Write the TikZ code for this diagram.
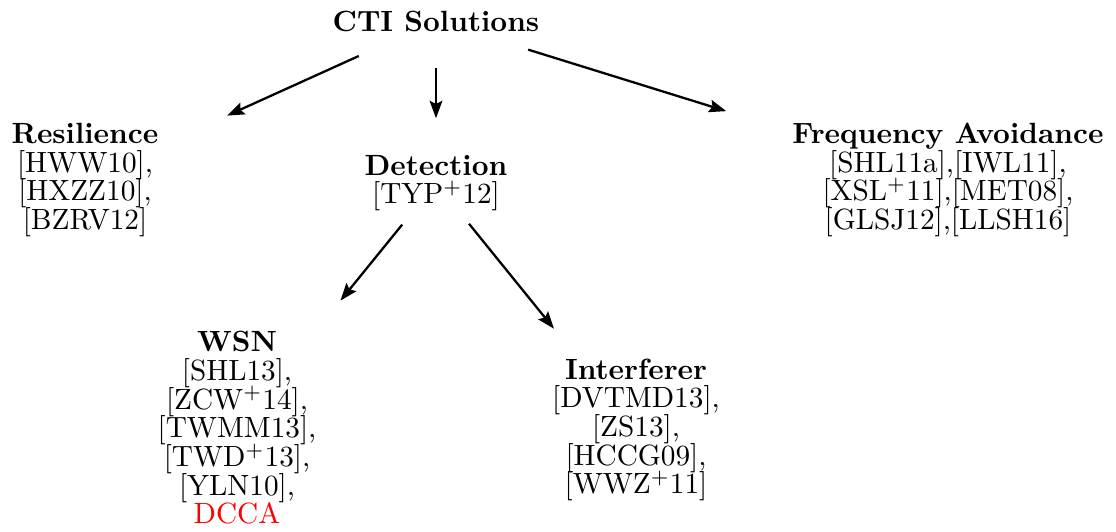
\documentclass[tikz,border=0pt]{standalone}
\usepackage{tikz}
\usetikzlibrary{arrows.meta,calc}
\tikzset{%
  tipA/.tip={Stealth[length=6pt,width=4.4pt,inset=1pt]},
  topic/.style={align=center,inner sep=0pt,font={\fontsize{10.2}{10}\selectfont\lineskiplimit=-20pt}},
  link/.style={line width=0.8pt,-tipA}
}

\begin{document}
\begin{tikzpicture}[x=0.3484pt,y=-0.3484pt]
\useasboundingbox (0,0) rectangle (1116,532);
\node[topic] (cti) at (436,21) {\textbf{CTI Solutions}};
\node[topic] (res) at (85,180) {\textbf{Resilience}\\ {[HWW10],}\\ {[HXZZ10],}\\ {[BZRV12]}};
\node[topic] (det) at (436,183) {\textbf{Detection}\\ {[TYP$^+$12]}};
\node[topic] (freq) at (948,180) {\textbf{Frequency Avoidance}\\ {[SHL11a],[IWL11],}\\ {[XSL$^+$11],[MET08],}\\ {[GLSJ12],[LLSH16]}};
\node[topic] (wsn) at (237,428) {\textbf{WSN}\\ {[SHL13],}\\ {[ZCW$^+$14],}\\ {[TWMM13],}\\ {[TWD$^+$13],}\\ {[YLN10],}\\ \textcolor{red}{DCCA}};
\node[topic] (intf) at (636,430) {\textbf{Interferer}\\ {[DVTMD13],}\\ {[ZS13],}\\ {[HCCG09],}\\ {[WWZ$^+$11]}};
% arrows
\draw[link] ($(cti)!0.22!(res)$) -- ($(cti)!0.595!(res)$);
\draw[link] ($(cti)!0.29!(det)$) -- ($(cti)!0.60!(det)$);
\draw[link] ($(cti)!0.18!(freq)$) -- ($(cti)!0.567!(freq)$);
\draw[link] ($(det)!0.17!(wsn)$) -- ($(det)!0.48!(wsn)$);
\draw[link] ($(det)!0.165!(intf)$) -- ($(det)!0.59!(intf)$);
\end{tikzpicture}
\end{document}
